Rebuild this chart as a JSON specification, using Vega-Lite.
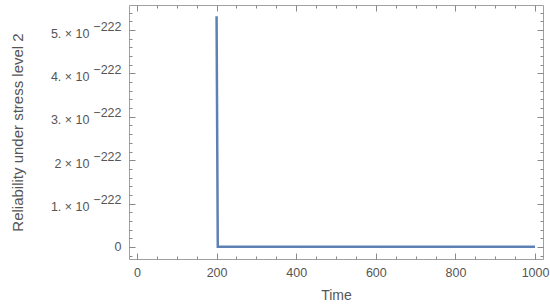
{
  "$schema": "https://vega.github.io/schema/vega-lite/v6.json",
  "width": 414,
  "height": 254,
  "autosize": "none",
  "padding": {"left": 129, "top": 5, "right": 7, "bottom": 48},
  "background": "white",
  "config": {
    "view": {"stroke": "#a0a0a0", "strokeWidth": 1},
    "axis": {
      "labelFont": "Liberation Sans",
      "titleFont": "Liberation Sans",
      "labelColor": "#555555",
      "titleColor": "#555555",
      "tickColor": "#8a8a8a",
      "domain": false,
      "grid": false,
      "labelFontSize": 12.5,
      "titleFontSize": 14,
      "titleFontWeight": "normal"
    }
  },
  "data": {
    "values": [
      {"time": 200, "rel": 5.32},
      {"time": 203, "rel": 0},
      {"time": 1000, "rel": 0}
    ]
  },
  "layer": [
    {
      "mark": {"type": "line", "color": "#5E81B5", "strokeWidth": 2.5, "clip": true},
      "encoding": {
        "x": {
          "field": "time", "type": "quantitative",
          "scale": {"domain": [-20, 1020], "nice": false, "zero": false},
          "axis": {
            "orient": "bottom",
            "title": "Time",
            "values": [0, 200, 400, 600, 800, 1000],
            "format": "d",
            "tickSize": -6,
            "labelPadding": 13,
            "titlePadding": 10
          }
        },
        "y": {
          "field": "rel", "type": "quantitative",
          "scale": {"domain": [-0.28, 5.58], "nice": false, "zero": false},
          "axis": {
            "orient": "left",
            "title": "Reliability under stress level 2",
            "titleFontSize": 15,
            "values": [0, 1, 2, 3, 4, 5],
            "labelExpr": "datum.value === 0 ? '' : (datum.value === 2 ? '2' : datum.value + '.') + ' × 10'",
            "tickSize": -6,
            "labelPadding": 46,
            "labelOffset": 3,
            "titlePadding": 25
          }
        }
      }
    },
    {
      "mark": {"type": "line", "opacity": 0},
      "encoding": {
        "x": {
          "field": "time", "type": "quantitative",
          "axis": {
            "orient": "bottom", "title": null, "labels": false,
            "values": [0, 50, 100, 150, 200, 250, 300, 350, 400, 450, 500, 550, 600, 650, 700, 750, 800, 850, 900, 950, 1000],
            "tickSize": -3
          }
        },
        "y": {
          "field": "rel", "type": "quantitative",
          "axis": {
            "orient": "left", "title": null,
            "values": [-0.2, 0, 0.2, 0.4, 0.6, 0.8, 1, 1.2, 1.4, 1.6, 1.8, 2, 2.2, 2.4, 2.6, 2.8, 3, 3.2, 3.4, 3.6, 3.8, 4, 4.2, 4.4, 4.6, 4.8, 5, 5.2, 5.4],
            "labelExpr": "datum.value === 0 ? '0' : (abs(datum.value - round(datum.value)) < 0.01 && datum.value > 0 ? '−222' : '')",
            "labelOffset": {"condition": {"test": "datum.value === 0", "value": 0}, "value": -4},
            "labelFontSize": {"condition": {"test": "datum.value === 0", "value": 12.5}, "value": 12.5},
            "labelPadding": 11,
            "tickSize": -3
          }
        }
      }
    },
    {
      "mark": {"type": "line", "opacity": 0},
      "encoding": {
        "x": {
          "field": "time", "type": "quantitative",
          "axis": {
            "orient": "top", "title": null, "labels": false,
            "values": [0, 200, 400, 600, 800, 1000],
            "tickSize": -6
          }
        },
        "y": {
          "field": "rel", "type": "quantitative",
          "axis": {
            "orient": "right", "title": null, "labels": false,
            "values": [0, 1, 2, 3, 4, 5],
            "tickSize": -6
          }
        }
      }
    },
    {
      "mark": {"type": "line", "opacity": 0},
      "encoding": {
        "x": {
          "field": "time", "type": "quantitative",
          "axis": {
            "orient": "top", "title": null, "labels": false,
            "values": [0, 50, 100, 150, 200, 250, 300, 350, 400, 450, 500, 550, 600, 650, 700, 750, 800, 850, 900, 950, 1000],
            "tickSize": -3
          }
        },
        "y": {
          "field": "rel", "type": "quantitative",
          "axis": {
            "orient": "right", "title": null, "labels": false,
            "values": [-0.2, 0, 0.2, 0.4, 0.6, 0.8, 1, 1.2, 1.4, 1.6, 1.8, 2, 2.2, 2.4, 2.6, 2.8, 3, 3.2, 3.4, 3.6, 3.8, 4, 4.2, 4.4, 4.6, 4.8, 5, 5.2, 5.4],
            "tickSize": -3
          }
        }
      }
    }
  ],
  "resolve": {"axis": {"x": "independent", "y": "independent"}}
}
